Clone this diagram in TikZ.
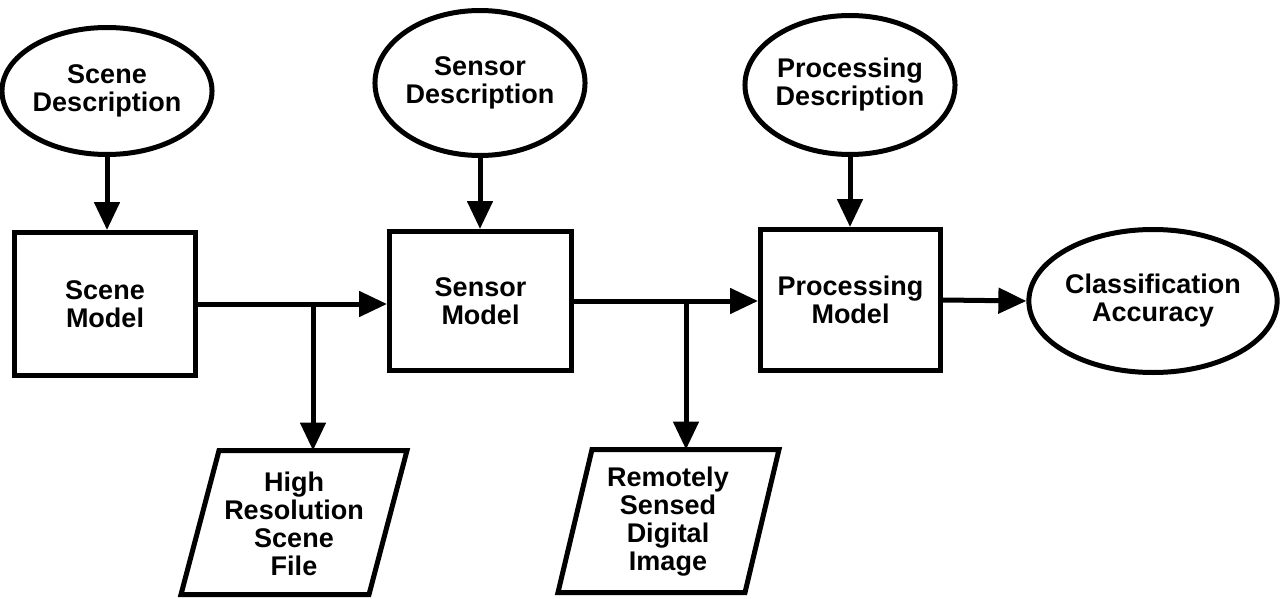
\documentclass[tikz,border=0pt]{standalone}
\usepackage{fontspec}
\setmainfont{Liberation Sans}
\usetikzlibrary{shapes.geometric, arrows.meta}

\begin{document}
\begin{tikzpicture}[x=1pt, y=-1pt,
  every node/.style={font=\fontsize{27}{28}\selectfont\bfseries, align=center, inner sep=0pt},
  outl/.style={line width=5pt, draw=black},
  descr/.style={outl, ellipse},
  modelbox/.style={outl, rectangle},
  flow/.style={line width=5pt, -{Triangle[length=28pt, width=25pt]}},
  datafile/.style={line width=5pt, line join=miter}
]
\useasboundingbox (0,0) rectangle (1283,599);

% description ellipses feeding the models
\node[descr, minimum width=179pt, minimum height=127pt] (sd) at (107,91) {Scene\\Description};
\node[descr, minimum width=185pt, minimum height=145pt] (nd) at (480,83) {Sensor\\Description};
\node[descr, minimum width=181pt, minimum height=139pt] (pd) at (850,85) {Processing\\Description};

% model boxes
\node[modelbox, minimum width=181pt, minimum height=143pt] (sm) at (105,304) {Scene\\Model};
\node[modelbox, minimum width=182pt, minimum height=139pt] (nm) at (480.5,301) {Sensor\\Model};
\node[modelbox, minimum width=180pt, minimum height=141pt] (pm) at (850.5,300) {Processing\\Model};

% result
\node[descr, minimum width=211pt, minimum height=143pt] (ca) at (1153,301) {Classification\\Accuracy};

% output files (parallelograms)
\draw[datafile] (219,450.5) -- (407,450.5) -- (369,594.5) -- (181,594.5) -- cycle;
\node (hr) at (294,524) {High\\Resolution\\Scene\\File};
\coordinate (hrtop) at (313,450.5);

\draw[datafile] (592,449.5) -- (779,449.5) -- (745,592.5) -- (558,592.5) -- cycle;
\node (rs) at (668,522) {Remotely\\Sensed\\Digital\\Image};
\coordinate (rstop) at (686,449.5);

% junctions on the main flow line
\coordinate (j1) at (313,304);
\coordinate (j2) at (686,301);

% connectors
\draw[flow] (sd.south) -- (sd.south |- sm.north);
\draw[flow] (nd.south) -- (nd.south |- nm.north);
\draw[flow] (pd.south) -- (pd.south |- pm.north);

\draw[flow] (sm.east) -- (sm.east -| nm.west);
\draw[flow] (nm.east) -- (nm.east -| pm.west);
\draw[flow] (pm.east) -- (ca.west);

\draw[flow] (j1) -- (hrtop);
\draw[flow] (j2) -- (rstop);
\end{tikzpicture}
\end{document}
